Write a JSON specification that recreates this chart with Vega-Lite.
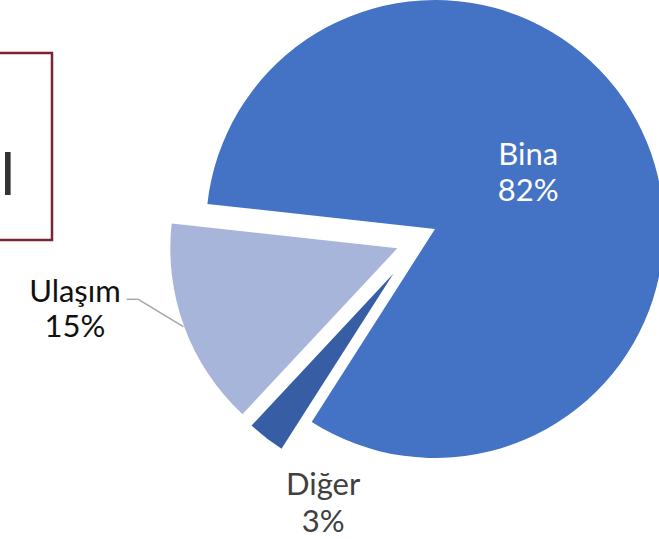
{
  "$schema": "https://vega.github.io/schema/vega-lite/v6.json",
  "width": 659,
  "height": 539,
  "autosize": {"type": "none"},
  "padding": 0,
  "background": "white",
  "config": {"view": {"stroke": null}, "font": "Lato"},
  "data": {"values": [
    {"sector": "Bina", "share": 82.3},
    {"sector": "Diğer", "share": 2.9},
    {"sector": "Ulaşım", "share": 14.8}
  ]},
  "transform": [
    {"stack": "share", "groupby": [], "as": ["s0", "s1"], "sort": [{"field": "sector", "order": "ascending"}]},
    {"calculate": "(datum.s0 + datum.s1) / 2", "as": "mid"},
    {"calculate": "datum.sector + '\\n' + format(datum.share, '.0f') + '%'", "as": "label"}
  ],
  "layer": [
    {
      "data": {"values": [{"frame": "title"}]},
      "mark": {"type": "rect", "x": -10, "x2": 52, "y": 53, "y2": 240, "fill": "transparent", "stroke": "#7B2436", "strokeWidth": 2.5},
      "encoding": {}
    },
    {
      "data": {"values": [{"frame": "title"}]},
      "mark": {"type": "text", "x": 1, "y": 195, "align": "left", "baseline": "alphabetic", "fontSize": 57, "fontWeight": 500, "fill": "#333333"},
      "encoding": {"text": {"value": "l"}}
    },
    {
      "transform": [{"filter": "datum.sector === 'Bina'"}],
      "mark": {"type": "arc", "x": 435, "y": 229, "outerRadius": 229, "fill": "#4472C4"},
      "encoding": {
        "theta": {"field": "s0", "type": "quantitative", "scale": {"domain": [0, 100], "range": [4.8223, 11.1055]}},
        "theta2": {"field": "s1"}
      }
    },
    {
      "transform": [{"filter": "datum.sector === 'Ulaşım'"}],
      "mark": {"type": "arc", "x": 397.3, "y": 248.3, "outerRadius": 227, "fill": "#A8B5DA"},
      "encoding": {
        "theta": {"field": "s0", "type": "quantitative", "scale": {"domain": [0, 100], "range": [4.8223, 11.1055]}},
        "theta2": {"field": "s1"}
      }
    },
    {
      "transform": [{"filter": "datum.sector === 'Diğer'"}],
      "mark": {"type": "arc", "x": 393.5, "y": 273.5, "outerRadius": 208, "fill": "#375EA4"},
      "encoding": {
        "theta": {"field": "s0", "type": "quantitative", "scale": {"domain": [0, 100], "range": [4.8223, 11.1055]}},
        "theta2": {"field": "s1"}
      }
    },
    {
      "transform": [{"filter": "datum.sector === 'Ulaşım'"}],
      "mark": {"type": "rule", "stroke": "#A6A6A6", "strokeWidth": 1.5},
      "encoding": {
        "x": {"value": 126.7}, "y": {"value": 299.3},
        "x2": {"value": 138.3}, "y2": {"value": 299.3}
      }
    },
    {
      "transform": [{"filter": "datum.sector === 'Ulaşım'"}],
      "mark": {"type": "rule", "stroke": "#A6A6A6", "strokeWidth": 1.5},
      "encoding": {
        "x": {"value": 138.3}, "y": {"value": 299.3},
        "x2": {"value": 183.3}, "y2": {"value": 326.7}
      }
    },
    {
      "transform": [{"filter": "datum.sector === 'Bina'"}],
      "mark": {"type": "text", "x": 436, "y": 228, "radius": 110, "dx": -7, "dy": -15.5, "align": "center", "baseline": "alphabetic", "fontSize": 31, "lineHeight": 36, "lineBreak": "\n", "fill": "white"},
      "encoding": {
        "theta": {"field": "mid", "type": "quantitative", "scale": {"domain": [0, 100], "range": [4.8223, 11.1055]}},
        "text": {"field": "label"}
      }
    },
    {
      "transform": [{"filter": "datum.sector === 'Ulaşım'"}],
      "mark": {"type": "text", "x": 397.3, "y": 248.3, "radius": 320, "dx": -22.3, "dy": -57.8, "align": "center", "baseline": "alphabetic", "fontSize": 31, "lineHeight": 35, "lineBreak": "\n", "fill": "#111111"},
      "encoding": {
        "theta": {"field": "mid", "type": "quantitative", "scale": {"domain": [0, 100], "range": [4.8223, 11.1055]}},
        "text": {"field": "label"}
      }
    },
    {
      "transform": [{"filter": "datum.sector === 'Diğer'"}],
      "mark": {"type": "text", "x": 393.5, "y": 273.5, "radius": 260, "dx": 89, "dy": 16, "align": "center", "baseline": "alphabetic", "fontSize": 31, "lineHeight": 37, "lineBreak": "\n", "fill": "#404040"},
      "encoding": {
        "theta": {"field": "mid", "type": "quantitative", "scale": {"domain": [0, 100], "range": [4.8223, 11.1055]}},
        "text": {"field": "label"}
      }
    }
  ]
}
